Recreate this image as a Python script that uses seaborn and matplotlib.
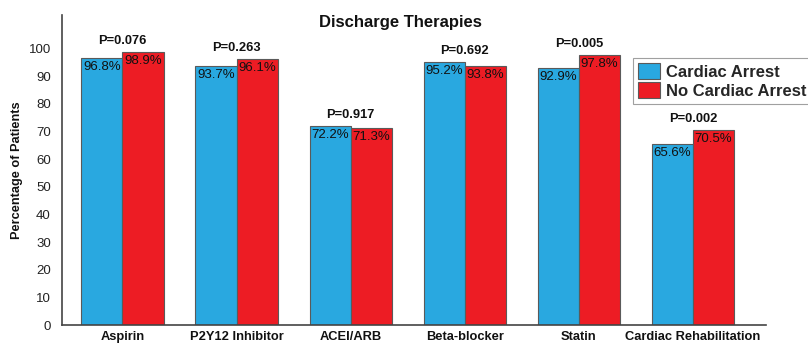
import matplotlib
matplotlib.use("Agg")
import matplotlib.pyplot as plt
from matplotlib.patches import Patch
from matplotlib.transforms import offset_copy
import pandas as pd
import seaborn as sns

therapies = ["Aspirin", "P2Y12 Inhibitor", "ACEI/ARB", "Beta-blocker", "Statin",
             "Cardiac Rehabilitation"]
cardiac_arrest = [96.8, 93.7, 72.2, 95.2, 92.9, 65.6]
no_cardiac_arrest = [98.9, 96.1, 71.3, 93.8, 97.8, 70.5]
p_values = ["P=0.076", "P=0.263", "P=0.917", "P=0.692", "P=0.005", "P=0.002"]
groups = ["Cardiac Arrest", "No Cardiac Arrest"]
colors = ["#29A8E0", "#ED1C24"]
y_ticks = [0, 10, 20, 30, 40, 50, 60, 70, 80, 90, 100]

df = pd.DataFrame({
    "Therapy": therapies * 2,
    "Group": [groups[0]] * len(therapies) + [groups[1]] * len(therapies),
    "Percent": cardiac_arrest + no_cardiac_arrest,
})

sns.set_theme(style="white")
plt.rcParams["font.family"] = ["Liberation Sans", "DejaVu Sans"]

fig = plt.figure(figsize=(8.08, 3.45), dpi=100)
ax = fig.add_axes([62 / 808, 20 / 345, (766 - 62) / 808, (325 - 15) / 345])

sns.barplot(data=df, x="Therapy", y="Percent", hue="Group", order=therapies,
            hue_order=groups, palette=colors, width=0.72, edgecolor="#5a5a5a",
            linewidth=0.8, saturation=1, legend=False, ax=ax)

ax.set_xlim(-0.53, 5.64)
ax.set_ylim(0, 112.2)
ax.set_yticks(y_ticks)
ax.set_yticklabels([str(t) for t in y_ticks], fontsize=9.5, color="#222222")
ax.tick_params(axis="both", length=0)
ax.tick_params(axis="y", pad=8)
ax.tick_params(axis="x", pad=4)
for lab in ax.get_xticklabels():
    lab.set_fontweight("bold")
    lab.set_fontsize(9.3)
    lab.set_color("#111111")
ax.set_xlabel("")
ax.set_ylabel("Percentage of Patients", fontsize=9.2, fontweight="bold",
              color="#111111", labelpad=4)

for side in ["top", "right"]:
    ax.spines[side].set_visible(False)
for side in ["left", "bottom"]:
    ax.spines[side].set_color("#444444")
    ax.spines[side].set_linewidth(1.2)

# value labels just inside the top of each bar
inside = offset_copy(ax.transData, fig=fig, x=0, y=-9, units="dots")
for cont, vals in zip(ax.containers, [cardiac_arrest, no_cardiac_arrest]):
    for bar, v in zip(cont, vals):
        ax.text(bar.get_x() + bar.get_width() / 2, bar.get_height(), f"{v}%",
                ha="center", va="center", fontsize=9.5, color="#111111",
                transform=inside)

# p-values above each pair
above = offset_copy(ax.transData, fig=fig, x=0, y=11, units="dots")
for i, p in enumerate(p_values):
    top = max(cardiac_arrest[i], no_cardiac_arrest[i])
    ax.text(i, top, p, ha="center", va="center", fontsize=9.3,
            fontweight="bold", color="#111111", transform=above)

ax.text(400 / 808, 1 - 22 / 345, "Discharge Therapies", transform=fig.transFigure,
        ha="center", va="center", fontsize=12, fontweight="bold", color="#111111")

handles = [Patch(facecolor=c, edgecolor="#5a5a5a", linewidth=0.8) for c in colors]
leg = fig.legend(handles, groups, loc="upper left",
                 bbox_to_anchor=(633 / 808, 1 - 58 / 345), borderaxespad=0,
                 frameon=True, fancybox=False, edgecolor="#888888",
                 prop={"weight": "bold", "size": 12}, handlelength=1.3,
                 handleheight=1.1, handletextpad=0.4, labelspacing=0.15,
                 borderpad=0.3)
leg.get_frame().set_linewidth(0.8)

fig.savefig("out.png", dpi=100, facecolor="white")
